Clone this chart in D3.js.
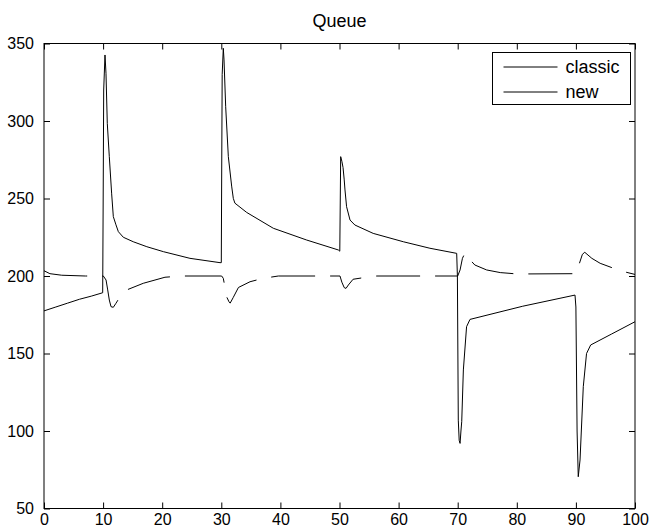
<!DOCTYPE html>
<html>
<head>
<meta charset="utf-8">
<script src="https://cdn.jsdelivr.net/npm/d3@7"></script>
<style>
  body { margin: 0; background: #fff; }
  svg { display: block; }
  text { font-family: "Liberation Sans", Arial, Helvetica, sans-serif; fill: #000; }
</style>
</head>
<body>
<svg id="chart" width="651" height="530"></svg>
<script>
// series values (time, queue)
var classicT = [0, 2, 4, 6, 8, 9.93, 10.0, 10.1, 10.32, 10.49, 10.71, 11.05, 11.45, 11.73, 12.18, 12.58, 13.42, 15.1, 17.4, 20.2, 24.7, 29.78,
  30.0, 30.06, 30.15, 30.34, 30.46, 30.74, 31.19, 31.75, 32.03, 32.3, 34.3, 38.8, 44.45, 49.8,
  50.05, 50.2, 50.4, 50.6, 50.8, 50.93, 51.2, 51.78, 52.6, 55.7, 60.8, 65.3, 69.83,
  69.95, 70.1, 70.25, 70.4, 70.55, 70.68, 70.96, 71.5, 72.08, 81, 89.85,
  90.0, 90.2, 90.4, 90.7, 91.25, 91.8, 92.5, 96, 100];
var classicQ = [177.5, 180, 182.5, 185, 187, 189.2, 240, 320, 342.6, 330.8, 298.5, 277, 253, 238.3, 233, 228.6, 225, 222.1, 218.9, 215.7, 211.4, 208.6,
  208.6, 260, 330, 346.9, 339.4, 309.2, 277, 258, 250.1, 247, 241, 230.8, 223.2, 216.8,
  216, 277, 274, 270, 262, 255.5, 244.7, 236.1, 232.9, 227.5, 222.1, 217.9, 214.6,
  200, 107, 94, 92, 100, 106, 139.4, 167.3, 172, 180.5, 187.7,
  180, 100, 70.5, 81.3, 128.6, 150, 155.5, 162.5, 170.5];

var newT = [0, 1, 3, 7, 10.04, 10.5, 10.78, 11.05, 11.34, 11.73, 12.18, 13.0, 13.99, 16.8, 20.47, 23.3,
  30.06, 30.34, 30.6, 30.9, 31.3, 31.5, 32.0, 32.9, 34.86, 37.1, 39.65,
  50.08, 50.4, 50.8, 51.1, 51.5, 52.3, 54.0, 56.3,
  70.0, 70.4, 70.8, 71.2, 71.6, 72.2, 72.9, 74.9, 77.2, 78.85, 80,
  90.1, 90.6, 91.1, 91.5, 92.7, 94.1, 97.5, 100];
var newQ = [203.4, 201.5, 200.5, 200, 200, 197.4, 191, 184.5, 180.2, 179.8, 182.4, 187.5, 191, 195.3, 199.2, 200,
  200, 198.5, 193.1, 186.6, 183.4, 182.5, 186, 192.6, 196.3, 198.5, 200,
  200, 196, 192.5, 192, 194.2, 197.9, 198.9, 200,
  200, 203.9, 211.4, 214.6, 214.8, 210, 207.1, 203.9, 202.2, 201.7, 201.3,
  201.5, 208.2, 214, 215.3, 211.4, 208.2, 203.4, 201];

var xTicks = [0, 10, 20, 30, 40, 50, 60, 70, 80, 90, 100];
var yTicks = [50, 100, 150, 200, 250, 300, 350];
var seriesNames = ['classic', 'new'];

(function () {
  var svg = d3.select('#chart');
  var mLeft = 44, mRight = 635, mTop = 43.5, mBottom = 508.5;

  var x = d3.scaleLinear().domain([0, 100]).range([mLeft, mRight]);
  var y = d3.scaleLinear().domain([50, 350]).range([mBottom, mTop]);

  var line = d3.line()
    .x(function (d) { return x(d[0]); })
    .y(function (d) { return y(d[1]); });

  var classic = d3.zip(classicT, classicQ);
  var fresh = d3.zip(newT, newQ);

  // clip to the axes box
  svg.append('clipPath').attr('id', 'box')
    .append('rect').attr('x', mLeft).attr('y', mTop)
    .attr('width', mRight - mLeft).attr('height', mBottom - mTop);

  var plot = svg.append('g').attr('clip-path', 'url(#box)');

  plot.append('path')
    .datum(classic)
    .attr('d', line)
    .attr('fill', 'none')
    .attr('stroke', '#000')
    .attr('stroke-width', 1);

  plot.append('path')
    .datum(fresh)
    .attr('d', line)
    .attr('fill', 'none')
    .attr('stroke', '#000')
    .attr('stroke-width', 1)
    .attr('stroke-dasharray', '44,15');

  // axes, matlab style: ticks inside on all four sides
  var tickLen = 6;
  var axB = d3.axisBottom(x).tickValues(xTicks).tickSizeInner(-tickLen).tickSizeOuter(0).tickPadding(5);
  var axT = d3.axisTop(x).tickValues(xTicks).tickSizeInner(-tickLen).tickSizeOuter(0).tickFormat('');
  var axL = d3.axisLeft(y).tickValues(yTicks).tickSizeInner(-tickLen).tickSizeOuter(0).tickPadding(10);
  var axR = d3.axisRight(y).tickValues(yTicks).tickSizeInner(-tickLen).tickSizeOuter(0).tickFormat('');

  function styleAxis(g) {
    g.select('.domain').remove();
    g.selectAll('line').attr('stroke', '#000');
    g.selectAll('text').attr('font-size', 16).attr('fill', '#000')
      .style('font-family', '"Liberation Sans", Arial, sans-serif');
  }

  svg.append('g').attr('transform', 'translate(0,' + mBottom + ')').call(axB).call(styleAxis);
  svg.append('g').attr('transform', 'translate(0,' + mTop + ')').call(axT).call(styleAxis);
  svg.append('g').attr('transform', 'translate(' + mLeft + ',0)').call(axL).call(styleAxis);
  svg.append('g').attr('transform', 'translate(' + mRight + ',0)').call(axR).call(styleAxis);

  svg.append('rect')
    .attr('x', mLeft).attr('y', mTop)
    .attr('width', mRight - mLeft).attr('height', mBottom - mTop)
    .attr('fill', 'none').attr('stroke', '#000').attr('stroke-width', 1);

  svg.append('text')
    .attr('x', (mLeft + mRight) / 2).attr('y', 27)
    .attr('text-anchor', 'middle')
    .attr('font-size', 18)
    .text('Queue');

  // legend
  var lg = svg.append('g').attr('transform', 'translate(492.5,52.5)');
  lg.append('rect').attr('width', 138).attr('height', 52)
    .attr('fill', '#fff').attr('stroke', '#000');
  seriesNames.forEach(function (name, i) {
    var yy = 14.5 + i * 25;
    lg.append('line').attr('x1', 11).attr('x2', 65).attr('y1', yy).attr('y2', yy)
      .attr('stroke', '#000');
    lg.append('text').attr('x', 73).attr('y', yy + 6).attr('font-size', 18).text(name);
  });
})();
</script>
</body>
</html>
